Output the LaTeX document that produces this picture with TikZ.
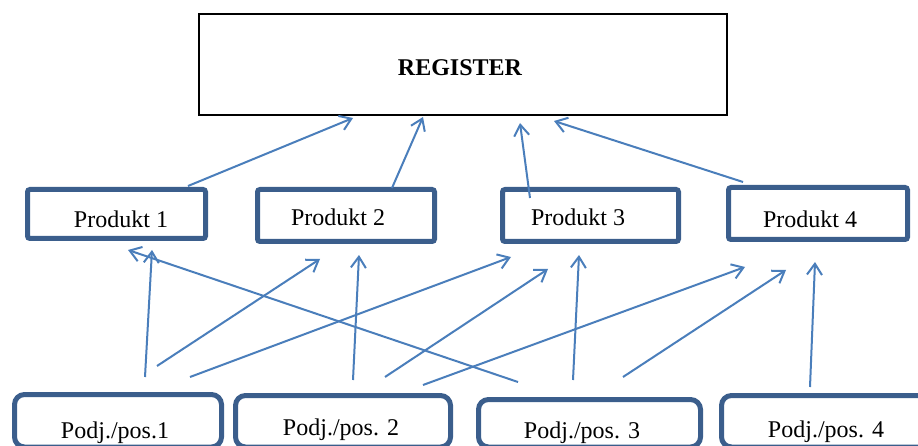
\documentclass[tikz,border=0pt]{standalone}
\usepackage{fontspec}
\setmainfont{Liberation Serif}
\usetikzlibrary{arrows.meta}
\definecolor{boxblue}{HTML}{3B5E8C}
\definecolor{linkblue}{HTML}{4A7EBB}

\begin{document}
\begin{tikzpicture}[x=1pt,y=-1pt,
  regbox/.style={draw=black, line width=2pt, minimum width=528pt, minimum height=101pt, inner sep=0pt},
  prodbox/.style={draw=boxblue, line width=5pt, rounded corners=2.5pt, inner sep=0pt},
  unitbox/.style={draw=boxblue, line width=5pt, rounded corners=10pt, inner sep=0pt},
  lbl/.style={font=\fontsize{24}{28}\selectfont, anchor=base, inner sep=0pt},
  link/.style={draw=linkblue, line width=2pt,
    -{Straight Barb[length=11pt,width=15pt,line width=2pt]}}]
\useasboundingbox (0,0) rectangle (918,446);
\begin{scope}
\clip (0,0) rectangle (918,446);

% register
\node[regbox] (reg) at (463,64.5) {};
\node[lbl, font=\fontsize{24}{28}\selectfont\bfseries] (regt) at (460,76) {REGISTER};

% product boxes
\node[prodbox, minimum width=178pt, minimum height=49pt] (p1) at (116.5,214) {};
\node[prodbox, minimum width=177pt, minimum height=52pt] (p2) at (346,215.5) {};
\node[prodbox, minimum width=176pt, minimum height=52pt] (p3) at (590.5,215.5) {};
\node[prodbox, minimum width=179pt, minimum height=52pt] (p4) at (818,213.5) {};
\node[lbl] (p1t) at (121,228) {Produkt 1};
\node[lbl] (p2t) at (338,226) {Produkt 2};
\node[lbl] (p3t) at (578,226) {Produkt 3};
\node[lbl] (p4t) at (810,228) {Produkt 4};

% unit boxes
\node[unitbox, minimum width=207pt, minimum height=52.5pt] (u1) at (118,420.75) {};
\node[unitbox, minimum width=215pt, minimum height=51.5pt] (u2) at (343,421.25) {};
\node[unitbox, minimum width=222pt, minimum height=47.5pt] (u3) at (589.5,423.25) {};
\node[unitbox, minimum width=208.5pt, minimum height=51.5pt] (u4) at (825.75,421.25) {};
\node[lbl] (u1t) at (115,438) {Podj./pos.1};
\node[lbl] (u2t) at (341,435) {Podj./pos. 2};
\node[lbl] (u3t) at (582,438) {Podj./pos. 3};
\node[lbl] (u4t) at (826,437) {Podj./pos. 4};

% connector ends
\coordinate (a1s) at (188,186);  \coordinate (a1e) at (353,118);
\coordinate (a2s) at (392,188);  \coordinate (a2e) at (423,117);
\coordinate (a3s) at (530,198);  \coordinate (a3e) at (520,123);
\coordinate (a4s) at (743,182);  \coordinate (a4e) at (554,121);

\coordinate (b1s) at (145,377);  \coordinate (b1e) at (152,250);
\coordinate (b2s) at (157,366);  \coordinate (b2e) at (320,259);
\coordinate (b3s) at (190,377);  \coordinate (b3e) at (511,257);
\coordinate (b4s) at (518,382);  \coordinate (b4e) at (128,250);
\coordinate (b5s) at (353,380);  \coordinate (b5e) at (359,255);
\coordinate (b6s) at (385,377);  \coordinate (b6e) at (548,269);
\coordinate (b7s) at (423,385);  \coordinate (b7e) at (745,267);
\coordinate (b8s) at (573,380);  \coordinate (b8e) at (579,255);
\coordinate (b9s) at (623,377);  \coordinate (b9e) at (786,270);
\coordinate (b10s) at (810,387); \coordinate (b10e) at (815,262);

% products feed the register
\draw[link] (a1s) -- (a1e);
\draw[link] (a2s) -- (a2e);
\draw[link] (a3s) -- (a3e);
\draw[link] (a4s) -- (a4e);

% units feed the products
\draw[link] (b1s) -- (b1e);
\draw[link] (b2s) -- (b2e);
\draw[link] (b3s) -- (b3e);
\draw[link] (b4s) -- (b4e);
\draw[link] (b5s) -- (b5e);
\draw[link] (b6s) -- (b6e);
\draw[link] (b7s) -- (b7e);
\draw[link] (b8s) -- (b8e);
\draw[link] (b9s) -- (b9e);
\draw[link] (b10s) -- (b10e);
\end{scope}
\end{tikzpicture}
\end{document}
